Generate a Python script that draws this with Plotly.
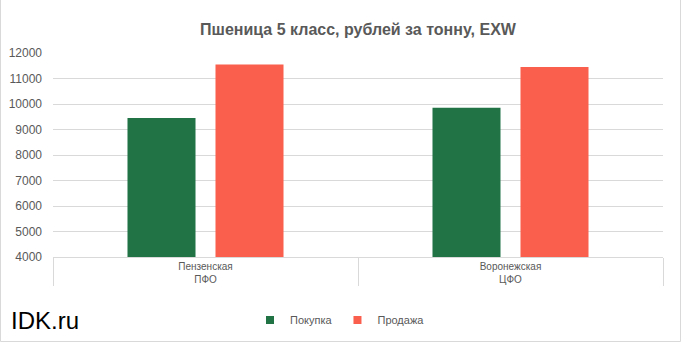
import plotly.graph_objects as go

districts = ["ПФО", "ЦФО"]
regions = ["Пензенская", "Воронежская"]
buy = [9450, 9850]
sell = [11550, 11450]
series_names = ["Покупка", "Продажа"]
colors = ["#217346", "#FA5F4D"]
title = "Пшеница 5 класс, рублей за тонну, EXW"
yticks = [4000, 5000, 6000, 7000, 8000, 9000, 10000, 11000, 12000]

W, H = 681, 342
L, R, T, B = 53, 18, 53, 85
pw, ph = W - L - R, H - T - B

fig = go.Figure()
for name, vals, c in zip(series_names, [buy, sell], colors):
    fig.add_trace(go.Bar(x=[districts, regions], y=vals, name=name,
                         showlegend=False,
                         marker=dict(color=c, line=dict(width=0))))
# legend entries with small square swatches
for name, c in zip(series_names, colors):
    fig.add_trace(go.Scatter(x=[[districts[0]], [regions[0]]], y=[None], name=name,
                             mode="markers",
                             marker=dict(symbol="square", size=8, color=c)))

gray = "#595959"
fig.update_layout(
    width=W, height=H,
    margin=dict(l=L, r=R, t=T, b=B, autoexpand=False),
    paper_bgcolor="white", plot_bgcolor="white",
    font=dict(family="Arial, Liberation Sans, sans-serif", color=gray),
    barmode="group", bargap=0.423, bargroupgap=0.227,
    title=dict(text="<b>" + title + "</b>", x=(L + pw / 2) / W, xanchor="center",
               y=1 - 29 / H, yanchor="middle",
               font=dict(size=16, color=gray, family="Arial, Liberation Sans, sans-serif")),
    showlegend=True,
    legend=dict(orientation="h", x=(340 - L) / pw, xanchor="center",
                y=-(320 - (T + ph)) / ph, yanchor="middle",
                font=dict(size=11, color=gray), itemwidth=30,
                traceorder="normal"),
    yaxis=dict(range=[4000, 12000], tickvals=yticks, tickformat="d",
               showgrid=True, automargin=False,
               gridcolor="#D9D9D9", gridwidth=1, zeroline=False,
               showline=False, ticks="", tickfont=dict(size=12, color=gray),
               ticklabelstandoff=10),
    xaxis=dict(type="multicategory", showline=True, linecolor="#D9D9D9",
               linewidth=1, ticks="", tickfont=dict(size=10, color=gray),
               automargin=False,
               showdividers=True, dividercolor="#D9D9D9", dividerwidth=1),
)

# outer chart border
fig.add_shape(type="rect", xref="paper", yref="paper",
              x0=-(L - 0.5) / pw, x1=(W - L - 0.5) / pw,
              y0=-(B - 0.5) / ph, y1=(H - B + T - 0.5) / ph,
              line=dict(color="#D9D9D9", width=1), fillcolor="rgba(0,0,0,0)",
              layer="below")

fig.add_annotation(text="IDK.ru", xref="paper", yref="paper",
                   x=-(L - 9) / pw, xanchor="left",
                   y=-(320 - (T + ph)) / ph, yanchor="middle",
                   showarrow=False,
                   font=dict(size=24, color="#000000", family="Arial, Liberation Sans, sans-serif"))

fig.write_html("out.html")
